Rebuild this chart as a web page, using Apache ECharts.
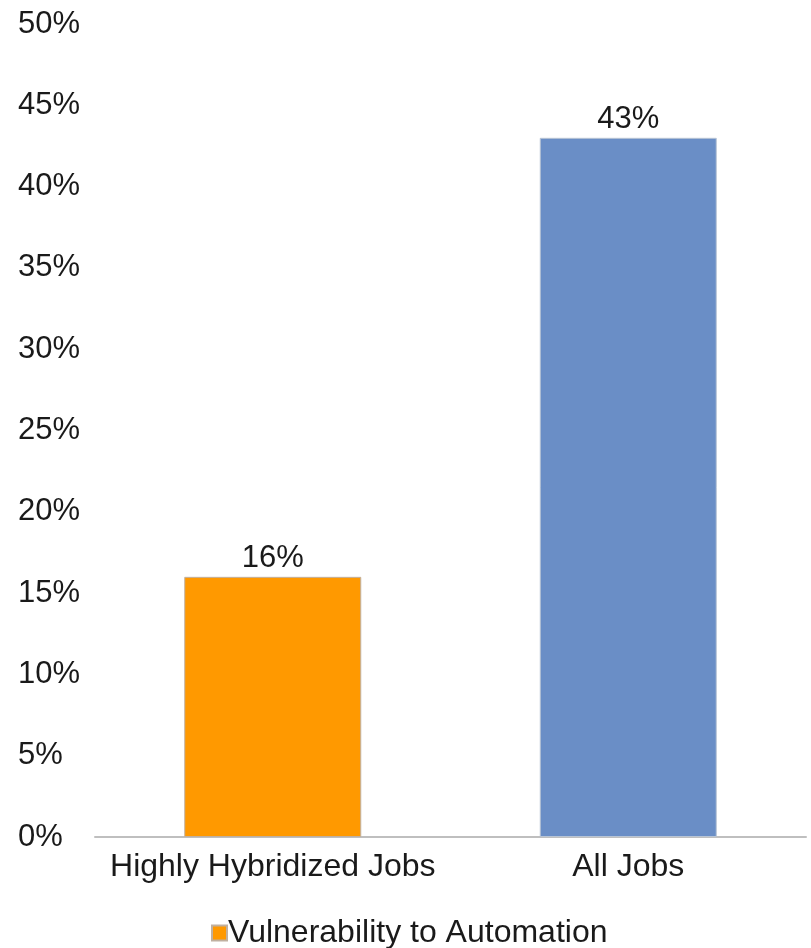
<!DOCTYPE html>
<html><head><meta charset="utf-8">
<script src="https://cdn.jsdelivr.net/npm/echarts@6/dist/echarts.min.js"></script>
<style>html,body{margin:0;padding:0;background:#fff}#c{width:811px;height:948px}</style>
</head><body><div id="c"></div>
<script>
const categories = ['Highly Hybridized Jobs', 'All Jobs'];
const values = [16, 43];
const seriesName = 'Vulnerability to Automation';
const FONT = 'Liberation Sans, Arial, sans-serif';
const chart = echarts.init(document.getElementById('c'));
chart.setOption({
  animation: false,
  backgroundColor: '#fff',
  grid: {left: 95, right: 5, top: 24, bottom: 111, containLabel: false},
  xAxis: {
    type: 'category', data: categories,
    axisLine: {show: true, lineStyle: {color: '#BFBFBF', width: 2}},
    axisTick: {show: false},
    axisLabel: {fontFamily: FONT, fontSize: 32, color: '#1a1a1a', margin: 14, interval: 0}
  },
  yAxis: {
    type: 'value', min: 0, max: 50, interval: 5,
    axisLine: {show: false}, axisTick: {show: false},
    splitLine: {show: false},
    axisLabel: {fontFamily: FONT, fontSize: 31, color: '#1a1a1a', align: 'left', margin: 77, padding: [5, 0, 0, 0], formatter: '{value}%'}
  },
  legend: {
    data: [seriesName], left: 206, top: 912,
    itemWidth: 15, itemHeight: 15, icon: 'rect',
    textStyle: {fontFamily: FONT, fontSize: 32, color: '#1a1a1a', padding: [0,0,0,-4]}
  },
  series: [{
    name: seriesName, type: 'bar', barWidth: 177,
    itemStyle: {color: '#FF9900', borderColor: '#C0B0A0', borderWidth: 1},
    label: {show: true, position: 'top', distance: 3, fontFamily: FONT, fontSize: 31, color: '#1a1a1a', formatter: '{c}%'},
    data: values.map((v, i) => i === 1 ? {value: v, itemStyle: {color: '#6A8EC6', borderColor: '#B8C4D4'}} : v)
  }]
});
</script></body></html>
